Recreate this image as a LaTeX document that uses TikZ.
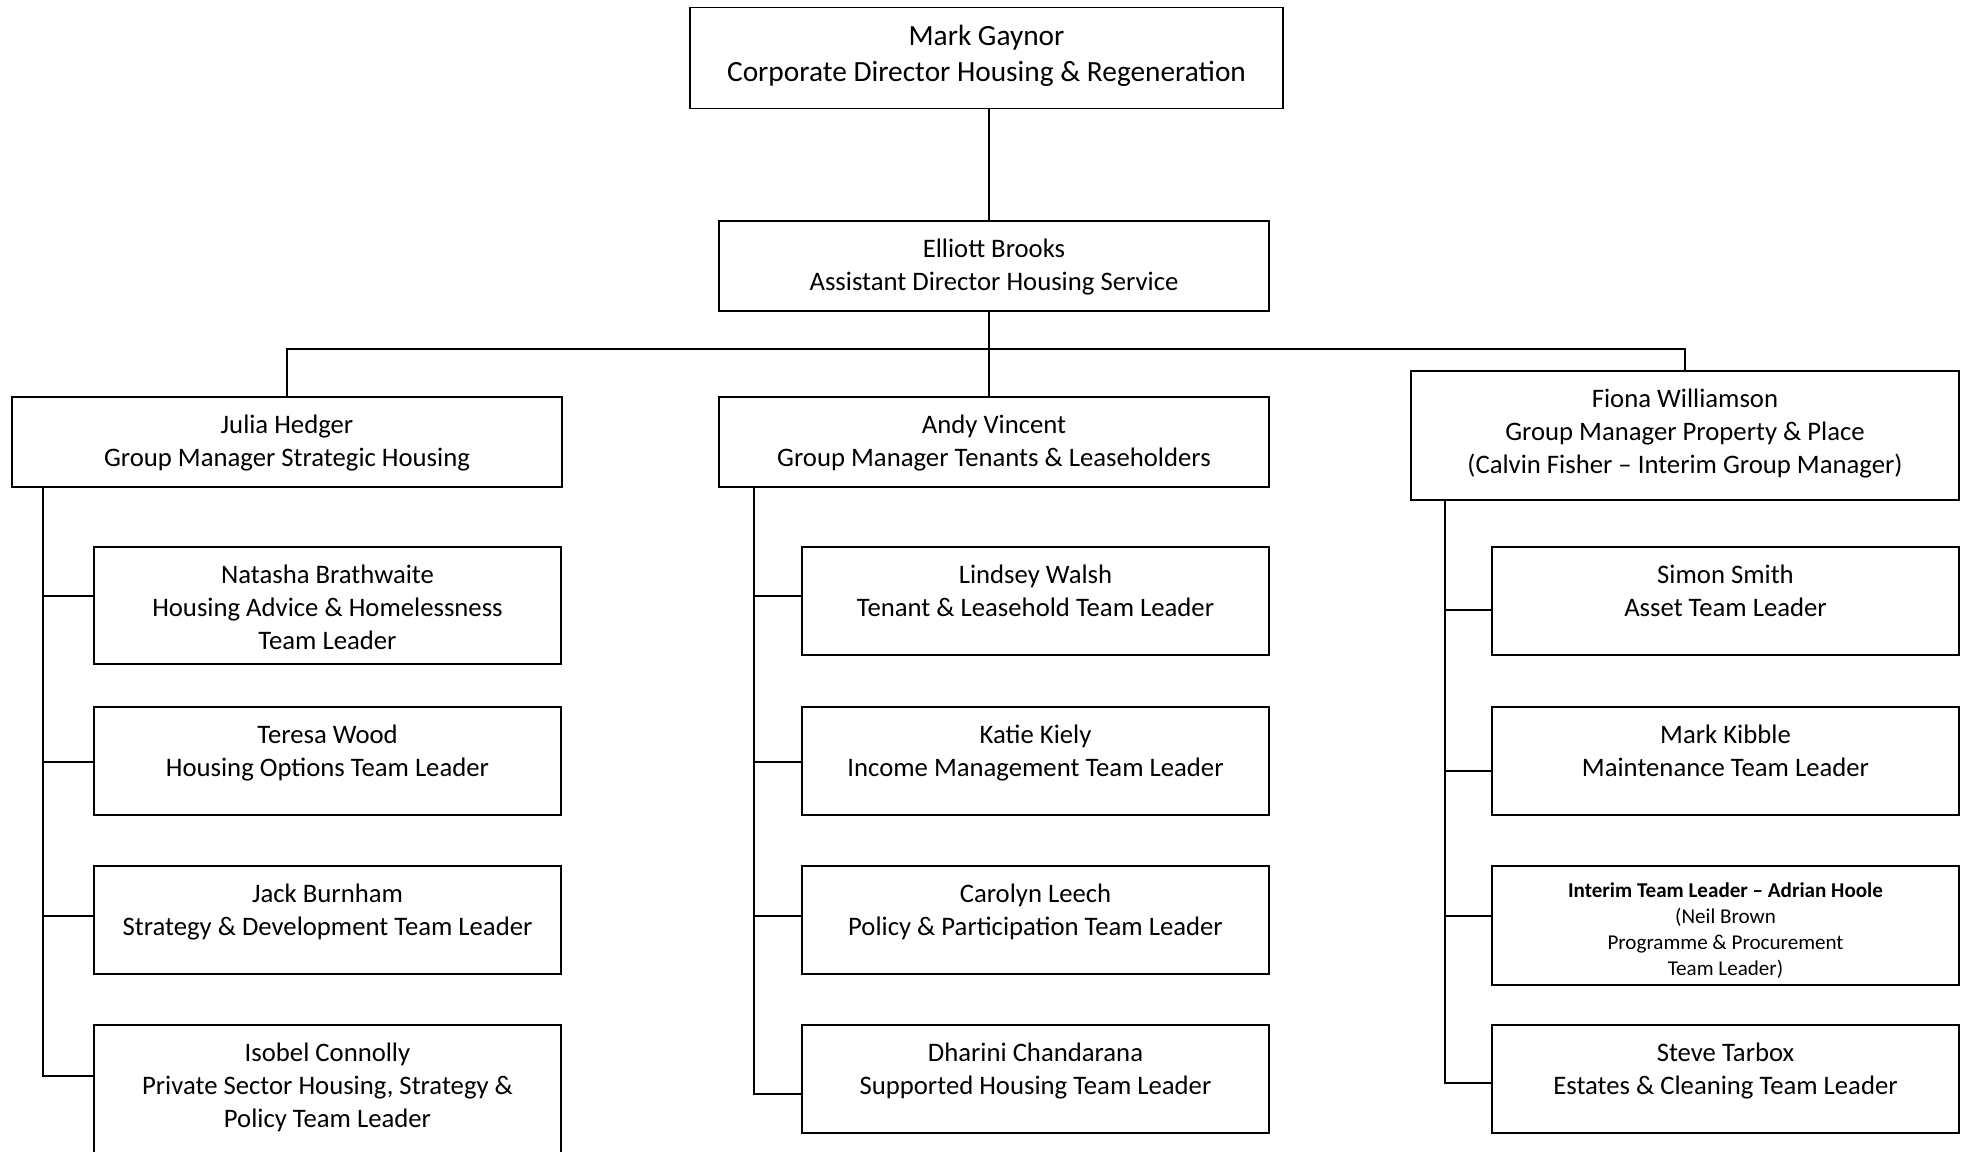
\documentclass[tikz,border=0pt]{standalone}
\usepackage{fontspec}
\setmainfont{Carlito}
\usepackage{tikz}
\usetikzlibrary{positioning}

\begin{document}
\begin{tikzpicture}[x=0.2mm, y=-0.2mm,
        post/.style={draw, line width=0.9pt, inner sep=0pt, minimum width=9.34cm, minimum height=2.16cm},
        title/.style={inner sep=0pt, align=center, font=\fontsize{15.2}{18.8}\selectfont},
        link/.style={line width=0.9pt}]
        \useasboundingbox (0, 0) rectangle (1968, 1151);
        \fill[white] (0, 0) rectangle (1968, 1151);

        % boxes
        \node[post, minimum width=11.86cm, minimum height=2.02cm] (gaynor) at (986.5, 58) {};
        \node[post, minimum width=11cm, minimum height=1.8cm] (brooks) at (994, 266) {};
        \node[post, minimum width=11cm, minimum height=1.8cm] (hedger) at (287, 442) {};
        \node[post, minimum width=11cm, minimum height=1.8cm] (vincent) at (994, 442) {};
        \node[post, minimum width=10.96cm, minimum height=2.58cm] (williamson) at (1685, 435.5) {};

        \node[post, minimum height=2.34cm] (brathwaite) at (327.5, 605.5) {};
        \node[post] (wood) at (327.5, 761) {};
        \node[post] (burnham) at (327.5, 920) {};
        \node[post, minimum height=3.2cm] (connolly) at (327.5, 1105) {};

        \node[post] (walsh) at (1035.5, 601) {};
        \node[post] (kiely) at (1035.5, 761) {};
        \node[post] (leech) at (1035.5, 920) {};
        \node[post] (chandarana) at (1035.5, 1079) {};

        \node[post] (smith) at (1725.5, 601) {};
        \node[post] (kibble) at (1725.5, 761) {};
        \node[post, minimum height=2.38cm] (hoole) at (1725.5, 925.5) {};
        \node[post] (tarbox) at (1725.5, 1079) {};

        % texts
        \node[title, font=\fontsize{16.7}{20}\selectfont, below=0.37cm of gaynor.north] (gaynor-t)
            {Mark Gaynor\\Corporate Director Housing \& Regeneration};
        \node[title, below=0.37cm of brooks.north] (brooks-t)
            {Elliott Brooks\\Assistant Director Housing Service};
        \node[title, below=0.37cm of hedger.north] (hedger-t)
            {Julia Hedger\\Group Manager Strategic Housing};
        \node[title, below=0.37cm of vincent.north] (vincent-t)
            {Andy Vincent\\Group Manager Tenants \& Leaseholders};
        \node[title, below=0.37cm of williamson.north] (williamson-t)
            {Fiona Williamson\\Group Manager Property \& Place\\(Calvin Fisher -- Interim Group Manager)};

        \node[title, below=0.37cm of brathwaite.north] (brathwaite-t)
            {Natasha Brathwaite\\Housing Advice \& Homelessness\\Team Leader};
        \node[title, below=0.37cm of wood.north] (wood-t)
            {Teresa Wood\\Housing Options Team Leader};
        \node[title, below=0.37cm of burnham.north] (burnham-t)
            {Jack Burnham\\Strategy \& Development Team Leader};
        \node[title, below=0.37cm of connolly.north] (connolly-t)
            {Isobel Connolly\\Private Sector Housing, Strategy \&\\Policy Team Leader};

        \node[title, below=0.37cm of walsh.north] (walsh-t)
            {Lindsey Walsh\\Tenant \& Leasehold Team Leader};
        \node[title, below=0.37cm of kiely.north] (kiely-t)
            {Katie Kiely\\Income Management Team Leader};
        \node[title, below=0.37cm of leech.north] (leech-t)
            {Carolyn Leech\\Policy \& Participation Team Leader};
        \node[title, below=0.37cm of chandarana.north] (chandarana-t)
            {Dharini Chandarana\\Supported Housing Team Leader};

        \node[title, below=0.37cm of smith.north] (smith-t)
            {Simon Smith\\Asset Team Leader};
        \node[title, below=0.37cm of kibble.north] (kibble-t)
            {Mark Kibble\\Maintenance Team Leader};
        \node[title, font=\fontsize{12}{14.7}\selectfont, below=0.35cm of hoole.north] (hoole-t)
            {\textbf{Interim Team Leader -- Adrian Hoole}\\(Neil Brown\\Programme \& Procurement\\Team Leader)};
        \node[title, below=0.37cm of tarbox.north] (tarbox-t)
            {Steve Tarbox\\Estates \& Cleaning Team Leader};

        % lines
        \coordinate (trunk) at (989, 0);
        \coordinate (bus) at (0, 349);
        \coordinate (spineL) at (43, 0);
        \coordinate (spineM) at (754, 0);
        \coordinate (spineR) at (1445, 0);
        \coordinate (lastL) at (0, 1076);
        \coordinate (lastM) at (0, 1094);
        \coordinate (lastR) at (0, 1083);

        \draw[link] (trunk |- gaynor.south) -- (trunk |- brooks.north);
        \draw[link] (trunk |- brooks.south) -- (trunk |- vincent.north);
        \draw[link] (hedger.north) -- (hedger.north |- bus) -- (williamson.north |- bus) -- (williamson.north);

        \draw[link] (spineL |- hedger.south) |- (connolly.west |- lastL);
        \foreach \n/\y in {brathwaite/596, wood/762, burnham/916}
            \draw[link] (spineL |- 0,\y) -- (\n.west |- 0,\y);

        \draw[link] (spineM |- vincent.south) |- (chandarana.west |- lastM);
        \foreach \n/\y in {walsh/596, kiely/762, leech/916}
            \draw[link] (spineM |- 0,\y) -- (\n.west |- 0,\y);

        \draw[link] (spineR |- williamson.south) |- (tarbox.west |- lastR);
        \foreach \n/\y in {smith/610, kibble/771, hoole/916}
            \draw[link] (spineR |- 0,\y) -- (\n.west |- 0,\y);
    \end{tikzpicture}
\end{document}
